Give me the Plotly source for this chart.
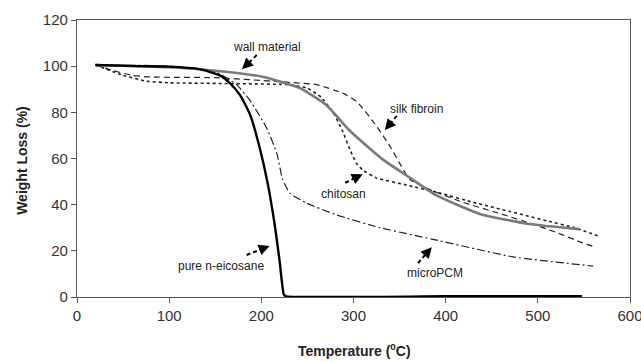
import plotly.graph_objects as go

# ---- data (temperature in °C, weight %) ----
eicosane_T = [20, 68, 100, 133, 155, 166, 177, 188, 198, 207, 215, 220, 224.5, 227, 400, 548]
eicosane_W = [100.5, 100, 99.8, 98.7, 96, 92.6, 87.4, 78.8, 65, 49, 30, 15, 1, 0.3, 0.3, 0.3]

wall_T = [20, 100, 150, 200, 223, 242, 271, 296, 332, 360, 390, 437, 491, 545]
wall_W = [100.5, 99.5, 98, 95.5, 93, 90.5, 83, 72, 59.5, 52, 44, 36, 31.6, 29.4]

silk_T = [20, 40, 60, 80, 150, 230, 260, 290, 304, 325, 340, 350, 361, 386, 419, 460, 491, 520, 545, 563]
silk_W = [100.5, 98, 96, 95.3, 95, 93, 92, 88, 84.5, 74, 65, 58, 51, 46, 41, 36, 32, 28, 24, 21.5]

chitosan_T = [20, 50, 75, 100, 230, 250, 265, 278, 288, 296, 303, 310, 325, 358, 394, 430, 470, 510, 540, 565]
chitosan_W = [100.5, 96, 93.5, 92.8, 92, 90.5, 86.5, 80, 72, 64, 58, 55, 51.5, 48.5, 45, 41, 37, 33, 30, 26.5]

micro_T = [20, 100, 150, 173, 188, 206, 217, 223, 231, 249, 282, 329, 386, 473, 560]
micro_W = [100.5, 100, 97.5, 92, 85, 73, 62, 51, 45, 40.7, 35.5, 30, 25, 17.4, 13.4]

x_ticks = [0, 100, 200, 300, 400, 500, 600]
y_ticks = [0, 20, 40, 60, 80, 100, 120]

fig = go.Figure()

def add(T, W, color, width, dash, smooth=0.5):
    fig.add_trace(go.Scatter(x=T, y=W, mode="lines",
                             line=dict(color=color, width=width, dash=dash, shape="spline", smoothing=smooth),
                             showlegend=False, hoverinfo="skip"))

add(silk_T, silk_W, "#222", 1.2, "6px,4px")
add(chitosan_T, chitosan_W, "#222", 1.6, "dot", 0.3)
add(micro_T, micro_W, "#222", 1.2, "8px,3px,2px,3px")
add(wall_T, wall_W, "#7a7a7a", 2.6, "solid")
add(eicosane_T, eicosane_W, "#000", 2.4, "solid")

# labels with dashed arrows: (text, text x, text y, tail x, tail y, head x, head y)
labels = [
    ("wall material", 206, 108.5, 195, 104.8, 179, 98.7),
    ("silk fibroin", 368, 81.5, 347, 78.5, 334, 72.3),
    ("chitosan", 289, 44.6, 291, 49.5, 310, 53.2),
    ("pure n-eicosane", 156, 13.6, 184, 18.2, 209, 22.1),
    ("microPCM", 388, 10.4, 370, 14.7, 385, 21.6),
]
for txt, tx, ty, x0, y0, x1, y1 in labels:
    fig.add_annotation(x=tx, y=ty, text=txt, showarrow=False,
                       font=dict(family="Liberation Sans, Arial", size=12, color="#222"))
    fig.add_trace(go.Scatter(x=[x0, x0 + 0.7 * (x1 - x0)], y=[y0, y0 + 0.7 * (y1 - y0)], mode="lines",
                             line=dict(color="#000", width=2, dash="4px,3px"),
                             showlegend=False, hoverinfo="skip"))
    fig.add_annotation(x=x1, y=y1, ax=x0 + 0.72 * (x1 - x0), ay=y0 + 0.72 * (y1 - y0),
                       axref="x", ayref="y", xref="x", yref="y", text="",
                       showarrow=True, arrowhead=2, arrowsize=1.1, arrowwidth=2, arrowcolor="#000")

# axis titles
fig.add_annotation(x=0.501, y=-0.19, xref="paper", yref="paper", showarrow=False,
                   text="<b>Temperature (<sup>0</sup>C)</b>", yanchor="middle",
                   font=dict(family="Liberation Sans, Arial", size=14, color="#222"))
fig.add_annotation(x=-0.0995, y=0.495, xref="paper", yref="paper", showarrow=False,
                   text="<b>Weight Loss (%)</b>", textangle=-90, xanchor="center",
                   font=dict(family="Liberation Sans, Arial", size=14, color="#222"))

axis_common = dict(showgrid=False, zeroline=False, showline=True, linecolor="#555", linewidth=1.2,
                   mirror=True, ticks="outside", ticklen=5, tickcolor="#555", tickwidth=1.2,
                   ticklabeloverflow="allow", automargin=False,
                   tickfont=dict(family="Liberation Sans, Arial", size=15, color="#333"))

fig.update_xaxes(range=[0, 600], tickvals=x_ticks, **axis_common)
fig.update_yaxes(range=[0, 120], tickvals=y_ticks, **axis_common)

fig.update_layout(width=641, height=362, margin=dict(l=77, r=11, t=20, b=65),
                  paper_bgcolor="white", plot_bgcolor="white")

fig.write_html("out.html")
